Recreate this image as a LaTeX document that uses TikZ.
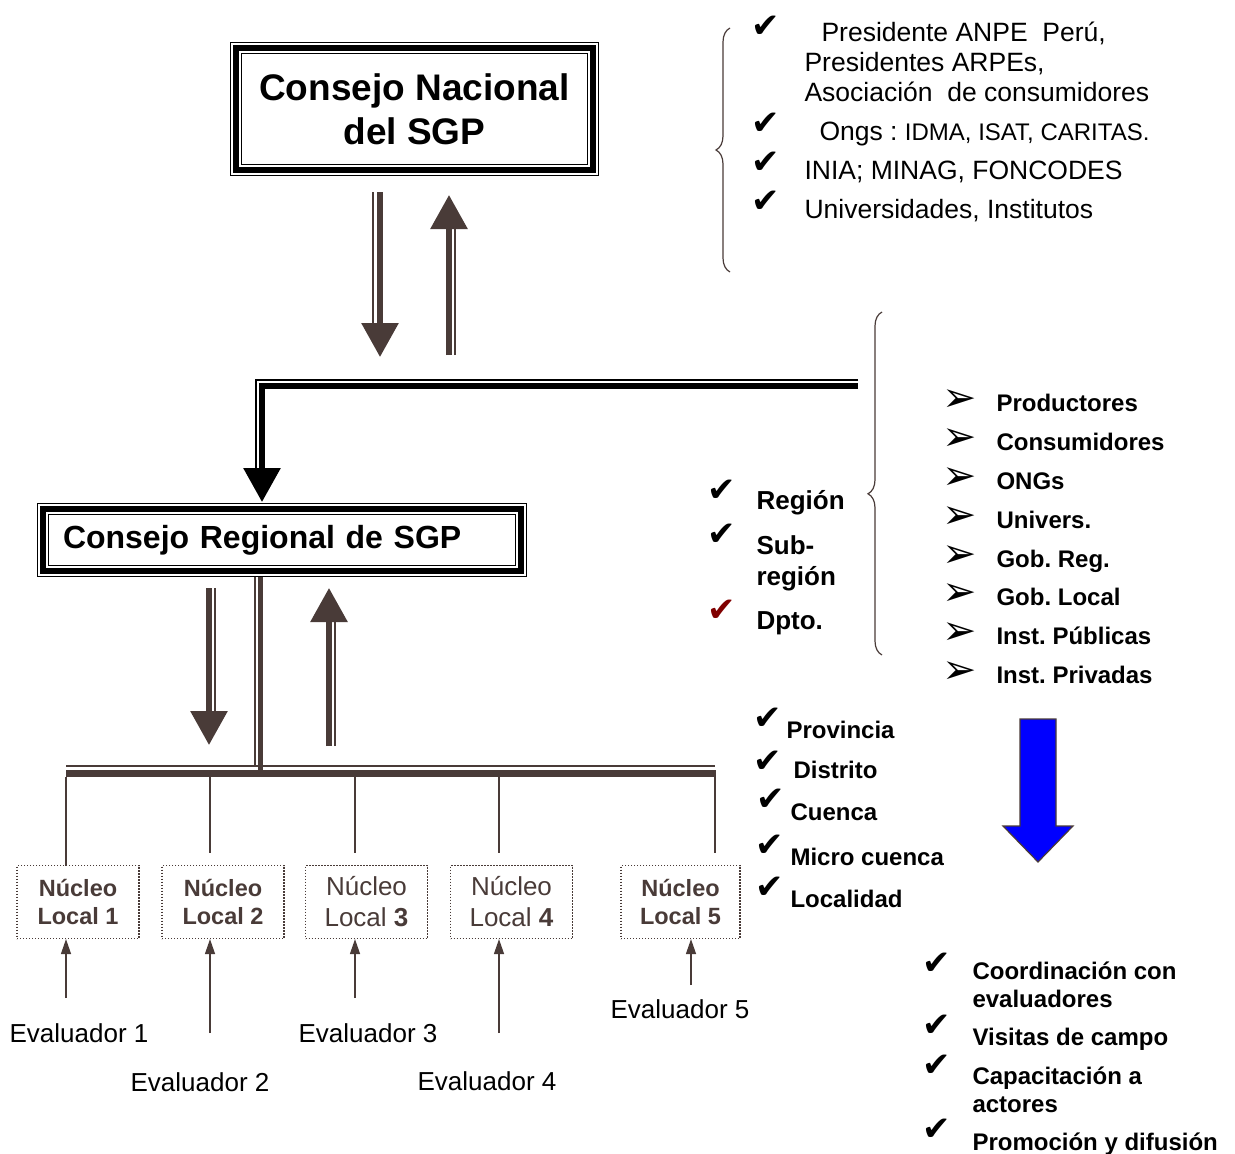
\documentclass[tikz,border=0pt]{standalone}
\usepackage{fontspec}
\setmainfont{Liberation Sans}
\newfontfamily\dingfont{DejaVu Sans}
\usetikzlibrary{arrows.meta, positioning, decorations.pathreplacing, calc}
\definecolor{sgpbrown}{RGB}{73,59,56}
\definecolor{sgpblue}{RGB}{0,0,255}
\definecolor{sgpred}{RGB}{128,0,0}
\frenchspacing
\tikzset{
  frame/.style    = {draw=black, line width=5.5pt, inner sep=0pt, outer sep=0pt,
                     preaction={draw=black, line width=1.2pt, double=white, double distance=9.6pt}},
  dblarrow/.style = {draw=sgpbrown, line width=6pt, -{Triangle[width=36pt,length=34pt]}},
  rail/.style     = {draw=sgpbrown, line width=1.8pt},
  nucleo/.style   = {draw=sgpbrown, line width=1.2pt, dash pattern=on 1.2pt off 1.8pt,
                     minimum width=122pt, minimum height=73pt, align=center, text=sgpbrown,
                     font=\fontsize{23.5}{28}\selectfont\bfseries},
  drop/.style     = {draw=sgpbrown, line width=1.5pt},
  evarrow/.style  = {draw=sgpbrown, line width=1.5pt, -{Triangle[width=10pt,length=15pt]}},
  lbrace/.style   = {draw=sgpbrown, line width=1.2pt, decorate, decoration={brace, amplitude=14pt}},
}

\begin{document}
\begin{tikzpicture}[
    x=1pt, y=-1pt,
    toptext/.style={anchor=base west, font=\fontsize{26.5}{30}\selectfont},
    bold/.style={anchor=base west, font=\fontsize{24}{28}\selectfont\bfseries},
    regtext/.style={anchor=base west, font=\fontsize{26}{30}\selectfont\bfseries},
    evlabel/.style={anchor=base, font=\fontsize{26}{30}\selectfont},
    tick/.style={font=\dingfont\fontsize{34}{34}\selectfont, inner sep=0pt},
    ding/.style={font=\dingfont\fontsize{41}{41}\selectfont, inner sep=0pt}
]
\useasboundingbox (0,0) rectangle (1235,1154);

% ---------------- councils ----------------
\node[frame, minimum width=357, minimum height=122, align=center,
      font=\fontsize{37}{44}\selectfont\bfseries] (cn) at (414.5,109)
  {Consejo Nacional\\del SGP};

\node[frame, minimum width=478, minimum height=62, text width=438, inner xsep=20pt,
      align=left, font=\fontsize{32}{36}\selectfont\bfseries] (cr) at (282,540)
  {Consejo Regional de SGP};

% ---------------- national <-> regional ----------------
\coordinate (nd1) at (380,192);
\coordinate (nd2) at (380,357);
\coordinate (nu1) at (449,355);
\coordinate (nu2) at (449,195);
\draw[rail, shorten >=34pt] ([xshift=-7pt]nd1) -- ([xshift=-7pt]nd2);
\draw[dblarrow] (nd1) -- (nd2);
\draw[rail, shorten >=34pt] ([xshift=6pt]nu1) -- ([xshift=6pt]nu2);
\draw[dblarrow] (nu1) -- (nu2);

\coordinate (lr) at (858,386);
\coordinate (lt) at (262,502);
\coordinate (lr2) at (858,379.5);
\coordinate (lt2) at (255.5,468);
\draw[rail, draw=black, line width=2pt] (lr2) -| (lt2);
\draw[dblarrow, draw=black] (lr) -| (lt);

% ---------------- regional -> nucleos ----------------
\coordinate (rb) at (260,577);
\coordinate (rbar) at (260,771);
\coordinate (rb2) at (255,577);
\coordinate (rbar2) at (255,766);
\draw[sgpbrown, line width=5pt] (rb) -- (rbar);
\draw[rail] (rb2) -- (rbar2);

\coordinate (bl) at (66,773.5);
\coordinate (br) at (716,773.5);
\coordinate (bl2) at (66,766);
\coordinate (br2) at (715,766);
\draw[sgpbrown, line width=7pt] (bl) -- (br);
\draw[rail] (bl2) -- (br2);

\coordinate (rd1) at (209,588);
\coordinate (rd2) at (209,745);
\coordinate (ru1) at (329,746);
\coordinate (ru2) at (329,588);
\draw[rail, shorten >=34pt] ([xshift=6pt]rd1) -- ([xshift=6pt]rd2);
\draw[dblarrow] (rd1) -- (rd2);
\draw[rail, shorten >=34pt] ([xshift=6pt]ru1) -- ([xshift=6pt]ru2);
\draw[dblarrow] (ru1) -- (ru2);

% ---------------- nucleos locales ----------------
\node[nucleo] (n1) at (78,902) {Núcleo\\Local 1};
\node[nucleo] (n2) at (223,902) {Núcleo\\Local 2};
\node[nucleo, font=\fontsize{26}{31}\selectfont] (n3) at (366.5,902) {Núcleo\\Local \textbf{3}};
\node[nucleo, font=\fontsize{26}{31}\selectfont] (n4) at (511.5,902) {Núcleo\\Local \textbf{4}};
\node[nucleo, minimum width=119pt] (n5) at (680.5,902) {Núcleo\\Local 5};

\foreach \i/\x/\e in {1/66/866, 2/210/853, 3/355/853, 4/499/853, 5/715/853} {
  \coordinate (d\i) at (\x,777);
  \coordinate (t\i) at (\x,\e);
  \draw[drop] (d\i) -- (t\i);
}

% ---------------- evaluadores ----------------
\coordinate (ev1) at (66,998);
\coordinate (ev2) at (210,1033);
\coordinate (ev3) at (355,998);
\coordinate (ev4) at (499,1033);
\coordinate (ev5) at (691,985);
\draw[evarrow] (ev1) -- (ev1 |- n1.south);
\draw[evarrow] (ev2) -- (ev2 |- n2.south);
\draw[evarrow] (ev3) -- (ev3 |- n3.south);
\draw[evarrow] (ev4) -- (ev4 |- n4.south);
\draw[evarrow] (ev5) -- (ev5 |- n5.south);

\node[evlabel] (el1) at (79,1042) {Evaluador 1};
\node[evlabel] (el2) at (200,1091) {Evaluador 2};
\node[evlabel] (el3) at (368,1042) {Evaluador 3};
\node[evlabel] (el4) at (487,1090) {Evaluador 4};
\node[evlabel] (el5) at (680,1018) {Evaluador 5};

% ---------------- members of the national council ----------------
\coordinate (b1s) at (730,272);
\coordinate (b1e) at (730,28);
\draw[lbrace] (b1s) -- (b1e);

\node[toptext] (p1) at (818,41) {Presidente ANPE\ \ Perú,};
\node[toptext] (p2) at (801,71) {Presidentes ARPEs,};
\node[toptext] (p3) at (801,101) {Asociación\ \ de consumidores};
\node[toptext] (p4) at (816,140) {Ongs : {\fontsize{24}{28}\selectfont IDMA, ISAT, CARITAS.}};
\node[toptext] (p5) at (801,179) {INIA; MINAG, FONCODES};
\node[toptext] (p6) at (801,218) {Universidades, Institutos};
\node[tick] (c1) at (766,27) {✔};
\node[tick] (c2) at (766,124) {✔};
\node[tick] (c3) at (766,163) {✔};
\node[tick] (c4) at (766,202) {✔};

% ---------------- regional council ----------------
\coordinate (b2s) at (882,655);
\coordinate (b2e) at (882,312);
\draw[lbrace, decoration={aspect=0.47}] (b2s) -- (b2e);

\node[regtext] (r1) at (753,509) {Región};
\node[regtext] (r2) at (753,554) {Sub-};
\node[regtext] (r3) at (753,585) {región};
\node[regtext] (r4) at (753,629) {Dpto.};
\node[tick] (rc1) at (722,491) {✔};
\node[tick] (rc2) at (722,535) {✔};
\node[tick, text=sgpred] (rc3) at (722,611) {✔};

\foreach \y/\t [count=\i] in {411/Productores, 450/Consumidores, 489/ONGs, 528/Univers.,
                              567/Gob. Reg., 605/Gob. Local, 644/Inst. Públicas, 683/Inst. Privadas} {
  \node[ding] (ah\i) at (960,\y-10) {➢};
  \node[bold] (ac\i) at (993,\y) {\t};
}

% ---------------- local levels ----------------
\node[bold] (l1) at (783,738) {Provincia};
\node[bold] (l2) at (790,778) {Distrito};
\node[bold] (l3) at (787,820) {Cuenca};
\node[bold] (l4) at (787,865) {Micro cuenca};
\node[bold] (l5) at (787,907) {Localidad};
\node[tick] (lc1) at (768,719) {✔};
\node[tick] (lc2) at (768,762) {✔};
\node[tick] (lc3) at (771,800) {✔};
\node[tick] (lc4) at (770,846) {✔};
\node[tick] (lc5) at (770,888) {✔};

% ---------------- tasks ----------------
\draw[sgpbrown, line width=1.2pt, fill=sgpblue]
  (1020,719) -- (1056,719) -- (1056,826) -- (1073,826) -- (1038,862)
  -- (1003,826) -- (1020,826) -- cycle;

\node[bold] (k1) at (969,979) {Coordinación con};
\node[bold] (k2) at (969,1007) {evaluadores};
\node[bold] (k3) at (969,1045) {Visitas de campo};
\node[bold] (k4) at (969,1084) {Capacitación a};
\node[bold] (k5) at (969,1112) {actores};
\node[bold] (k6) at (969,1150) {Promoción y difusión};
\node[tick] (kc1) at (937,964) {✔};
\node[tick] (kc2) at (937,1026) {✔};
\node[tick] (kc3) at (937,1066) {✔};
\node[tick] (kc4) at (937,1130) {✔};

\end{tikzpicture}
\end{document}
